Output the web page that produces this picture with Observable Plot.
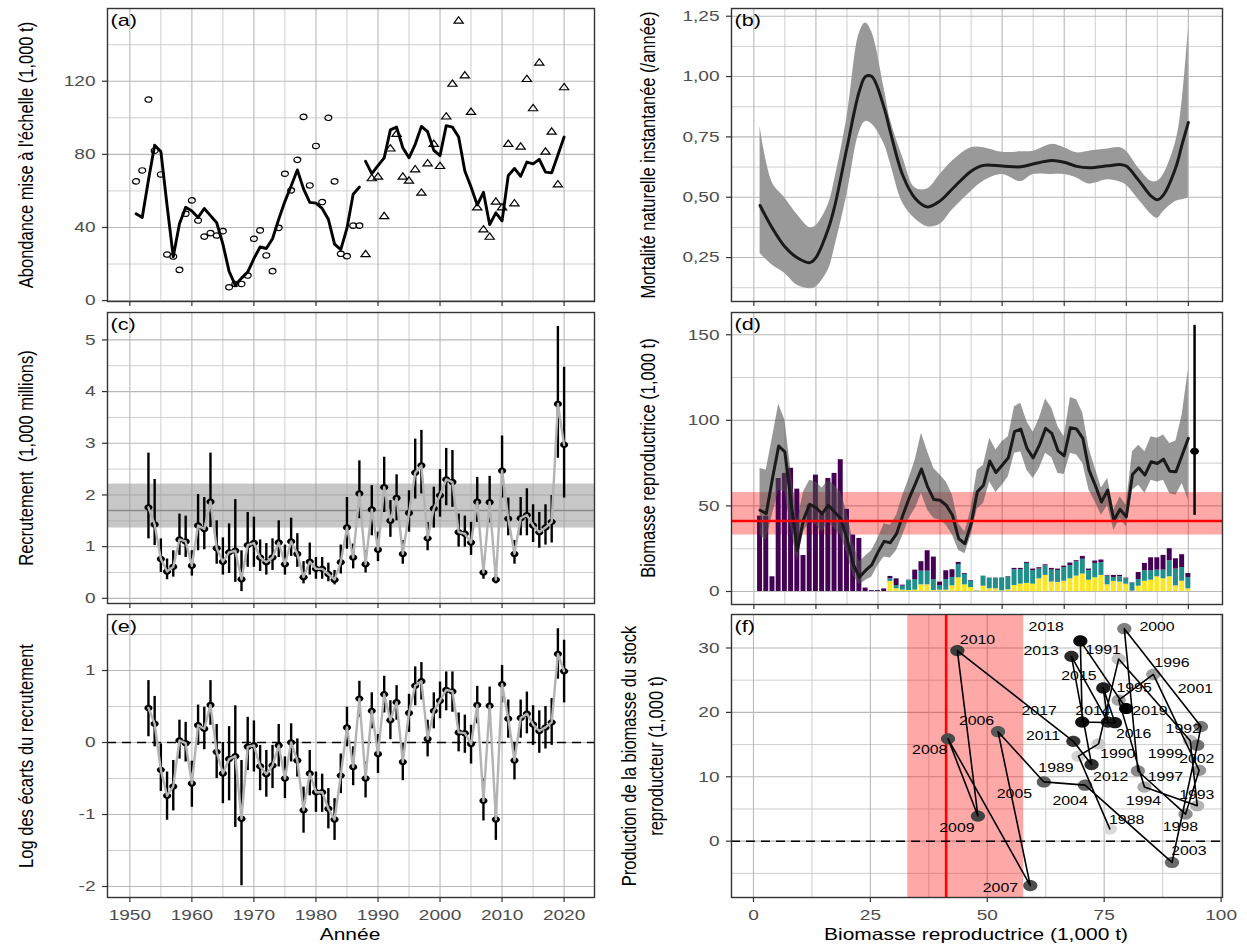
<!DOCTYPE html>
<html><head><meta charset="utf-8">
<script src="https://cdn.jsdelivr.net/npm/d3@7"></script>
<script src="https://cdn.jsdelivr.net/npm/@observablehq/plot@0.6"></script>
<style>
body{margin:0;background:#fff;}
#chart{position:relative;width:1247px;height:947px;overflow:hidden;font-family:"Liberation Sans",Arial,Helvetica,sans-serif;}
.t{position:absolute;white-space:pre;color:#000;line-height:1.25;text-align:center;transform-origin:50% 50%;}
</style></head><body><div id="chart"></div><script>
// ---------------- DATA ----------------
// (a) scaled survey abundance (1,000 t)
const aCircYear = [1951,1952,1953,1954,1955,1956,1957,1958,1959,1960,1961,1962,1963,1964,1965,1966,1967,1968,1969,1970,1971,1972,1973,1974,1975,1976,1977,1978,1979,1980,1981,1982,1983,1984,1985,1986,1987];
const aCircVal  = [65.2,71.2,110,82,69,25.2,24.1,16.8,47.5,54.8,43.8,35,36.9,35.6,38,7.3,9.1,9.1,13.7,33.8,38.4,24.7,16.1,39.8,69.4,60.3,77,100.5,63,84.6,53.9,100,65.2,25.6,24.3,41,41];
const aTriYear  = [1988,1989,1990,1991,1992,1993,1994,1995,1996,1997,1998,1999,2000,2001,2002,2003,2004,2005,2006,2007,2008,2009,2010,2011,2012,2013,2014,2015,2016,2017,2018,2019,2020];
const aTriVal   = [25.2,66.7,67.6,46,83,91,67.6,65.4,71.6,58.8,74.9,85.5,73.4,100.5,118.4,153,123,103,50.8,38.7,34.7,53.9,50.8,85.5,53,84,121,105,130,81.3,92.2,63.4,116.5];
// spawning stock biomass (1,000 t), 1951-2020
const ssbYear = [1951,1952,1953,1954,1955,1956,1957,1958,1959,1960,1961,1962,1963,1964,1965,1966,1967,1968,1969,1970,1971,1972,1973,1974,1975,1976,1977,1978,1979,1980,1981,1982,1983,1984,1985,1986,1987,1988,1989,1990,1991,1992,1993,1994,1995,1996,1997,1998,1999,2000,2001,2002,2003,2004,2005,2006,2007,2008,2009,2010,2011,2012,2013,2014,2015,2016,2017,2018,2019,2020];
const ssbMid = [47.5,45.5,66,85,81.6,52,24,42,51,49,45.5,50.4,46.5,42.6,30.9,16,8.4,12.3,15.6,23,29.3,28.5,33.8,44.5,54.3,62.7,71.5,61.1,53.7,53.3,50.4,44.5,30.9,27.9,39.6,58.2,62.1,76.2,69.5,73.8,78.1,93.4,94.9,83.6,78.1,85.5,95.3,92.4,82.2,79.3,95.7,94.9,89.5,70.9,62.1,52.3,59.2,41.6,48,43.6,68.4,72.3,68,75.8,74.8,77.3,70.3,69.9,79.7,89.5];
const ssbHi  = [71.9,70.9,90,109.4,100.2,70,40.6,58.2,65,64,60.5,65,62.1,58.2,46.5,28.9,17.2,20.7,24,30.9,39.6,38.7,44.5,56.3,66,76.8,92.4,81.6,71.9,68,64,56.3,39.6,34.8,48.4,70.9,73.8,89.5,82.6,87.5,90.4,108,110,99.2,93,101.2,112.5,107,96.3,90.4,113.3,112,104.1,83.6,71.9,60.5,66,47.5,55.3,50.4,81.6,85.5,81.6,90.4,89.5,91.4,86.5,87.9,103.1,129.5];
const ssbLo  = [32.8,29.9,45,59.2,58.2,36,17.2,34.8,40.6,38.7,34.8,40.6,36.7,32.8,22.1,9.4,3.9,6.4,8.4,15.2,20.1,19.5,24,32.8,42.6,48.4,57.2,47.5,42.6,41.6,38.7,32.8,24,22.1,32.8,48.4,51.4,64,57.8,62.1,67,80.7,81.6,70.9,66,71.9,80.7,78.1,68.9,68.4,80.7,79.7,74.8,59.2,52.3,44.5,50.4,35.7,42.6,37.7,59.2,62.1,57.2,65,64,65,57.2,56.3,63.1,53.3];
// (d) stacked bars by component, 1951-2020
const barPurple = [44,44,8.6,66,69,72,59.8,21,50.5,68,46,66,69,77,48,33,31,2,0.5,0.5,1.5,1.4,3.9,0.6,0.3,5.5,5.5,11.9,13.1,2.0,5.1,4.5,1.2,0.5,0.4,0,0,0.2,0.2,0,0.3,0.8,0.8,0.6,1.0,0.8,0.6,1.0,0.8,0.8,1.4,0.6,1.7,1.0,1.4,1.6,0.4,1.2,0.8,0.4,0.2,4.1,4.3,7.6,7.2,8.6,7.0,6.0,7.5,2.3];
const barTeal   = [0,0,0,0,0,0,0,0,0,0,0,0,0,0,0,0,0,0,0,0,0,1.5,1.9,2.3,5.7,6.2,8.0,8.0,6.4,2.7,6.2,4.9,7.8,6.1,3.7,0.2,5.9,6.0,6.0,7.6,7.4,9.2,8.4,11.7,7.8,5.7,5.6,7.0,7.0,8.0,7.8,8.4,8.6,5.5,8.4,7.4,5.1,2.3,3.1,3.1,4.7,3.9,6.1,5.5,3.9,5.1,9.4,9.8,8.0,6.6];
const barYellow = [0,0,0,0,0,0,0,0,0,0,0,0,0,0,0,0,0,0,0,0,0,5.9,1.6,0.8,0.6,0.8,3.9,3.9,0.6,0.8,0.8,3.3,8.0,3.9,2.3,0.3,3.1,1.6,1.6,0.4,1.0,3.5,4.3,4.7,4.3,7.4,9.4,5.5,5.3,6.0,7.4,9.0,10.2,6.6,8.0,9.4,3.9,5.9,5.5,4.3,0.2,3.1,6.0,6.6,8.6,7.4,8.6,3.3,6.0,1.6];
const refLine = 41.2, refLo = 33, refHi = 57.8;           // limit reference point and band
const ssbLastYear = [2021], ssbLastMid = [82], ssbLastLo = [44.5], ssbLastHi = [155.5];
// (b) natural mortality
const bYear = [1951,1953,1955,1957,1959,1960,1962,1963,1965,1967,1968,1969,1971,1972,1974,1976,1978,1980,1982,1985,1987,1990,1993,1995,1998,2000,2002,2004,2007,2009,2010,2012,2014,2015,2016,2018,2019,2020];
const bMid = [0.466,0.371,0.295,0.249,0.229,0.25,0.37,0.46,0.705,0.94,1.0,1.0,0.87,0.77,0.59,0.495,0.46,0.485,0.535,0.608,0.632,0.629,0.626,0.638,0.652,0.645,0.628,0.622,0.63,0.636,0.629,0.57,0.505,0.49,0.51,0.625,0.72,0.81];
const bHi  = [0.796,0.559,0.497,0.427,0.374,0.382,0.47,0.57,0.83,1.18,1.222,1.185,0.95,0.82,0.665,0.538,0.535,0.594,0.65,0.705,0.705,0.686,0.688,0.691,0.719,0.705,0.684,0.691,0.70,0.705,0.691,0.62,0.566,0.566,0.595,0.733,0.90,1.20];
const bLo  = [0.267,0.218,0.184,0.135,0.121,0.128,0.2,0.29,0.51,0.77,0.814,0.803,0.72,0.64,0.475,0.41,0.378,0.388,0.448,0.524,0.566,0.594,0.565,0.594,0.594,0.594,0.58,0.555,0.572,0.563,0.55,0.49,0.43,0.413,0.441,0.483,0.49,0.497];
// (c) recruitment and (e) log recruitment deviations, 1953-2020
const rYear = [1953,1954,1955,1956,1957,1958,1959,1960,1961,1962,1963,1964,1965,1966,1967,1968,1969,1970,1971,1972,1973,1974,1975,1976,1977,1978,1979,1980,1981,1982,1983,1984,1985,1986,1987,1988,1989,1990,1991,1992,1993,1994,1995,1996,1997,1998,1999,2000,2001,2002,2003,2004,2005,2006,2007,2008,2009,2010,2011,2012,2013,2014,2015,2016,2017,2018,2019,2020];
const rMid = [1.76,1.43,0.76,0.52,0.61,1.14,1.10,0.63,1.41,1.34,1.87,0.97,0.71,0.89,0.92,0.37,1.03,1.07,0.79,0.70,0.79,1.08,0.66,1.10,0.86,0.41,0.71,0.57,0.57,0.47,0.36,0.70,1.37,0.79,2.03,0.66,1.72,0.94,2.15,1.50,1.94,0.86,1.65,2.43,2.57,1.16,1.74,1.99,2.30,2.25,1.28,1.25,1.08,1.87,0.50,1.86,0.36,2.47,1.54,0.86,1.55,1.61,1.41,1.28,1.37,1.48,3.76,2.97];
const rLo  = [1.15,1.02,0.50,0.36,0.41,0.83,0.79,0.43,0.92,0.94,1.37,0.66,0.45,0.48,0.31,0.13,0.60,0.60,0.52,0.45,0.54,0.79,0.45,0.81,0.60,0.28,0.45,0.37,0.37,0.32,0.26,0.47,0.95,0.57,1.54,0.49,1.21,0.71,1.66,1.18,1.50,0.66,1.28,1.92,2.02,0.92,1.36,1.57,1.79,1.76,0.99,0.99,0.83,1.47,0.37,1.46,0.28,1.94,1.21,0.66,1.21,1.21,1.08,0.97,1.03,1.07,2.71,1.94];
const rHi  = [2.81,2.30,1.15,0.76,0.92,1.63,1.59,0.92,2.01,1.95,2.81,1.50,1.17,1.44,1.91,0.92,1.66,1.57,1.13,1.06,1.15,1.50,1.03,1.55,1.25,0.71,1.07,0.79,0.79,0.68,0.54,1.03,1.95,1.05,2.66,0.92,2.18,1.28,2.73,1.89,2.39,1.12,2.08,3.08,3.25,1.47,2.15,2.49,2.90,2.86,1.63,1.59,1.47,2.34,0.71,2.36,0.54,3.14,1.94,1.12,1.95,2.12,1.81,1.66,1.81,1.99,5.26,4.47];
const rMean = 1.70, rBandLo = 1.36, rBandHi = 2.21;
const devMid = [0.48,0.26,-0.38,-0.74,-0.61,0.03,-0.01,-0.57,0.24,0.19,0.52,-0.13,-0.43,-0.23,-0.19,-1.06,-0.06,-0.04,-0.33,-0.44,-0.32,-0.04,-0.50,0.00,-0.25,-0.94,-0.43,-0.69,-0.69,-0.92,-1.07,-0.46,0.21,-0.34,0.61,-0.50,0.44,-0.16,0.67,0.31,0.56,-0.27,0.41,0.79,0.85,0.05,0.44,0.58,0.73,0.71,0.14,0.13,-0.02,0.52,-0.81,0.51,-1.07,0.81,0.33,-0.25,0.34,0.40,0.25,0.16,0.21,0.28,1.23,0.99];
const devLo  = [0.08,-0.06,-0.68,-1.08,-0.95,-0.23,-0.27,-0.90,-0.04,-0.10,0.24,-0.50,-0.85,-0.81,-1.18,-1.99,-0.39,-0.41,-0.67,-0.76,-0.64,-0.34,-0.78,-0.27,-0.48,-1.26,-0.74,-0.97,-0.97,-1.20,-1.36,-0.71,-0.06,-0.60,0.35,-0.77,0.19,-0.43,0.41,0.04,0.31,-0.53,0.14,0.51,0.59,-0.20,0.19,0.33,0.44,0.42,-0.13,-0.15,-0.30,0.26,-1.09,0.24,-1.36,0.55,0.06,-0.52,0.06,0.12,-0.04,-0.15,-0.09,-0.04,0.88,0.55];
const devHi  = [0.86,0.64,-0.02,-0.41,-0.25,0.31,0.28,-0.26,0.52,0.49,0.86,0.25,0.00,0.22,0.51,-0.25,0.35,0.30,-0.04,-0.11,-0.04,0.25,-0.20,0.26,0.05,-0.62,-0.11,-0.41,-0.44,-0.64,-0.78,-0.16,0.49,-0.06,0.85,-0.27,0.69,0.11,0.92,0.58,0.79,-0.01,0.67,1.05,1.11,0.31,0.69,0.84,0.98,0.98,0.41,0.38,0.24,0.78,-0.50,0.77,-0.78,1.07,0.59,0.00,0.59,0.70,0.51,0.44,0.50,0.61,1.58,1.42];
// (f) surplus production vs SSB, 1988-2019 (x from ssbMid)
const fYear = [1988,1989,1990,1991,1992,1993,1994,1995,1996,1997,1998,1999,2000,2001,2002,2003,2004,2005,2006,2007,2008,2009,2010,2011,2012,2013,2014,2015,2016,2017,2018,2019];
const fProd = [1.9,13.2,15.1,28.3,15.6,5.5,8.4,21.9,25.9,11.0,4.2,10.9,33.0,17.8,14.9,-3.3,8.7,9.2,17.0,-6.9,15.9,3.9,29.6,15.5,11.9,28.7,18.5,23.8,18.4,18.5,31.1,20.6];
const fLblX = [79.8,64.7,77.9,74.8,91.9,94.8,83.4,81.4,89.5,88.1,91.3,88.1,86.3,94.5,94.8,93.1,67.7,55.8,47.7,52.8,37.7,43.5,47.9,61.9,76.4,61.5,72.6,69.6,81.3,61.1,62.6,84.8];
const fLblY = [3.3,11.3,13.5,29.7,17.4,7.2,6.3,23.8,27.6,9.9,2.2,13.6,33.2,23.7,12.8,-1.6,6.3,7.4,18.6,-7.2,14.1,2.1,31.3,16.4,9.9,29.5,20.2,25.6,16.6,20.2,33.2,20.2];
// ticks
const yearMajor = [1950,1960,1970,1980,1990,2000,2010,2020];
const yearMinor = [1955,1965,1975,1985,1995,2005,2015];

// ---------------- LAYOUT / STYLE ----------------
const chart = document.getElementById("chart");
const ST = 1.27;
const FONT = '"Liberation Sans", Arial, Helvetica, sans-serif';
const BOX = {
  a:{x0:107,x1:594,y0:8,y1:301}, b:{x0:731,x1:1222,y0:8,y1:301},
  c:{x0:107,x1:594,y0:312,y1:603}, d:{x0:731,x1:1222,y0:312,y1:604},
  e:{x0:107,x1:594,y0:614,y1:897}, f:{x0:731,x1:1222,y0:614,y1:897}
};
const XL = [1946.4, 2024.9], XR = [1946.4, 2025.5];
const mL = 62, mR = 12, mT = 10, mB = 36;

const ellipse = {draw(ctx, size){ const r=Math.sqrt(size/Math.PI), rx=r*ST, k=0.5523;
  ctx.moveTo(rx,0); ctx.bezierCurveTo(rx,k*r,k*rx,r,0,r); ctx.bezierCurveTo(-k*rx,r,-rx,k*r,-rx,0);
  ctx.bezierCurveTo(-rx,-k*r,-k*rx,-r,0,-r); ctx.bezierCurveTo(k*rx,-r,rx,-k*r,rx,0); ctx.closePath(); }};
const triangle = {draw(ctx, size){ const s3=Math.sqrt(3), y=-Math.sqrt(size/(s3*3));
  ctx.moveTo(0,y*2); ctx.lineTo(-s3*y*ST,-y); ctx.lineTo(s3*y*ST,-y); ctx.closePath(); }};

function panel(box, xdom, ydom, xMaj, xMin, yMaj, yMin, marks, tag, opts={}) {
  const w = box.x1-box.x0, h = box.y1-box.y0;
  const svg = Plot.plot({
    width: w+mL+mR, height: h+mT+mB, marginLeft:mL, marginRight:mR, marginTop:mT, marginBottom:mB,
    x:{domain:xdom}, y:{domain:ydom}, color:{type:"identity"},
    style:{fontFamily:FONT, fontSize:"15px", background:"transparent", overflow:"visible"},
    marks:[
      Plot.ruleX(xMin,{stroke:"#cacaca", strokeWidth:0.9}),
      Plot.ruleY(yMin,{stroke:"#cacaca", strokeWidth:0.9}),
      Plot.ruleX(xMaj,{stroke:"#b8b8b8", strokeWidth:1.1}),
      Plot.ruleY(yMaj,{stroke:"#b8b8b8", strokeWidth:1.1}),
      ...marks,
      Plot.frame({stroke:"#333", strokeWidth:1.4}),
      Plot.text([tag],{frameAnchor:"top-left", dx:3, dy:5, lineAnchor:"top", textAnchor:"start", fontSize:17, fill:"#000"}),
      Plot.axisX(xMaj,{tickSize:5, tickPadding:7, stroke:"#333", strokeWidth:1.2, fill: opts.xLabels ? "#4d4d4d" : "none", tickFormat: opts.xFmt || (d=>String(d)), label:null, fontSize:15}),
      Plot.axisY(yMaj,{tickSize:5, tickPadding:7, stroke:"#333", strokeWidth:1.2, fill:"#4d4d4d", tickFormat: opts.yFmt || (d=>String(d)), label:null, fontSize:15})
    ]
  });
  svg.style.position="absolute"; svg.style.left=(box.x0-mL)+"px"; svg.style.top=(box.y0-mT)+"px";
  chart.append(svg);
}
const I = arr => d3.range(arr.length);
const ssbIdx = I(ssbYear);
const early = ssbIdx.filter(i => ssbYear[i] <= 1987), late = ssbIdx.filter(i => ssbYear[i] >= 1988);

// (a)
panel(BOX.a, XL, [-0.5,159.8], yearMajor, yearMinor, [0,40,80,120], [20,60,100,140], [
  Plot.line(early,{x:i=>ssbYear[i], y:i=>ssbMid[i], stroke:"#000", strokeWidth:2.9}),
  Plot.line(late,{x:i=>ssbYear[i], y:i=>ssbMid[i], stroke:"#000", strokeWidth:2.9}),
  Plot.dot(I(aCircYear),{x:i=>aCircYear[i], y:i=>aCircVal[i], r:2.7, symbol:ellipse, stroke:"#000", fill:"none", strokeWidth:1.2}),
  Plot.dot(I(aTriYear),{x:i=>aTriYear[i], y:i=>aTriVal[i], r:2.7, symbol:triangle, stroke:"#000", fill:"none", strokeWidth:1.2})
], "(a)");

// (b)
const fmtComma = d => d.toFixed(2).replace(".", ",");
panel(BOX.b, XR, [0.068,1.282], yearMajor, yearMinor, [0.25,0.5,0.75,1.0,1.25], [0.125,0.375,0.625,0.875,1.125], [
  Plot.areaY(I(bYear),{x:i=>bYear[i], y1:i=>bLo[i], y2:i=>bHi[i], fill:"#999999", curve:"catmull-rom"}),
  Plot.line(I(bYear),{x:i=>bYear[i], y:i=>bMid[i], stroke:"#1a1a1a", strokeWidth:3, curve:"catmull-rom"})
], "(b)", {yFmt: fmtComma});

// (c)
panel(BOX.c, XL, [-0.10,5.53], yearMajor, yearMinor, [0,1,2,3,4,5], [0.5,1.5,2.5,3.5,4.5], [
  Plot.rect([0],{y1:rBandLo, y2:rBandHi, fill:"#999", fillOpacity:0.55}),
  Plot.ruleY([rMean],{stroke:"#8c8c8c", strokeWidth:1.6}),
  Plot.ruleX(I(rYear),{x:i=>rYear[i], y1:i=>rLo[i], y2:i=>rHi[i], stroke:"#000", strokeWidth:2.4}),
  Plot.dot(I(rYear),{x:i=>rYear[i], y:i=>rMid[i], r:3.2, symbol:ellipse, fill:"#000"}),
  Plot.line(I(rYear),{x:i=>rYear[i], y:i=>rMid[i], stroke:"#b3b3b3", strokeWidth:2.4})
], "(c)");

// (d)
const barRows = [];
ssbYear.forEach((yr,i) => { barRows.push({year:yr, v:barYellow[i], c:"#fde725"}, {year:yr, v:barTeal[i], c:"#21908c"}, {year:yr, v:barPurple[i], c:"#440154"}); });
panel(BOX.d, XR, [-7.6,163.0], yearMajor, yearMinor, [0,50,100,150], [25,75,125], [
  Plot.rect([0],{y1:refLo, y2:refHi, fill:"#ff0000", fillOpacity:0.34}),
  Plot.rect(barRows, Plot.stackY({x:"year", y:"v", fill:"c", x1:d=>d.year-0.4, x2:d=>d.year+0.4})),
  Plot.areaY(ssbIdx,{x:i=>ssbYear[i], y1:i=>ssbLo[i], y2:i=>ssbHi[i], fill:"#4d4d4d", fillOpacity:0.58}),
  Plot.line(ssbIdx,{x:i=>ssbYear[i], y:i=>ssbMid[i], stroke:"#1a1a1a", strokeWidth:3}),
  Plot.ruleY([refLine],{stroke:"#ff0000", strokeWidth:2.6}),
  Plot.ruleX(I(ssbLastYear),{x:i=>ssbLastYear[i], y1:i=>ssbLastLo[i], y2:i=>ssbLastHi[i], stroke:"#000", strokeWidth:2.5}),
  Plot.dot(I(ssbLastYear),{x:i=>ssbLastYear[i], y:i=>ssbLastMid[i], r:3.5, symbol:ellipse, fill:"#000"})
], "(d)");

// (e)
panel(BOX.e, XL, [-2.153,1.778], yearMajor, yearMinor, [-2,-1,0,1], [-1.5,-0.5,0.5,1.5], [
  Plot.ruleY([0],{stroke:"#000", strokeWidth:1.5, strokeDasharray:"9,6"}),
  Plot.ruleX(I(rYear),{x:i=>rYear[i], y1:i=>devLo[i], y2:i=>devHi[i], stroke:"#000", strokeWidth:2.4}),
  Plot.dot(I(rYear),{x:i=>rYear[i], y:i=>devMid[i], r:3.2, symbol:ellipse, fill:"#000"}),
  Plot.line(I(rYear),{x:i=>rYear[i], y:i=>devMid[i], stroke:"#b3b3b3", strokeWidth:2.4})
], "(e)", {xLabels:true});

// (f)
const ssbOf = yr => ssbMid[ssbYear.indexOf(yr)];
const grey = d3.interpolateLab("#dadada", "#000000");
const fIdx = I(fYear);
panel(BOX.f, [-4.7,100.3], [-8.75,35.2], [0,25,50,75,100], [12.5,37.5,62.5,87.5], [0,10,20,30], [-5,5,15,25], [
  Plot.rect([0],{x1:refLo, x2:refHi, fill:"#ff0000", fillOpacity:0.34}),
  Plot.ruleX([refLine],{stroke:"#ff0000", strokeWidth:2.6}),
  Plot.ruleY([0],{stroke:"#000", strokeWidth:1.5, strokeDasharray:"9,6"}),
  Plot.dot(fIdx,{x:i=>ssbOf(fYear[i]), y:i=>fProd[i], r:5.6, symbol:ellipse, fill:i=>grey((fYear[i]-1988)/31)}),
  Plot.line(fIdx,{x:i=>ssbOf(fYear[i]), y:i=>fProd[i], stroke:"#000", strokeWidth:1.6}),
  Plot.text(fIdx,{x:i=>fLblX[i], y:i=>fLblY[i], text:i=>String(fYear[i]), fontSize:12.5, fill:"#000"})
], "(f)", {xLabels:true});

// stretch all svg text horizontally like the reference
for (const t of chart.querySelectorAll("svg text")) {
  if (t.querySelector("tspan")) continue;
  const L = t.getComputedTextLength();
  if (L > 0) { t.setAttribute("textLength", (L*ST).toFixed(2)); t.setAttribute("lengthAdjust", "spacingAndGlyphs"); }
}

// axis titles (HTML)
function title(txt, cx, cy, rot, size) {
  const d = document.createElement("div");
  d.className = "t"; d.textContent = txt;
  d.style.left = cx+"px"; d.style.top = cy+"px"; d.style.fontSize = size+"px";
  d.style.transform = `translate(-50%,-50%) scaleX(${ST})` + (rot ? " rotate(-90deg)" : "");
  chart.append(d);
}
title("Abondance mise à l'échelle (1,000 t)", 26, 155, true, 16.5);
title("Recrutement  (1,000 millions)", 26, 458, true, 16.5);
title("Log des écarts du recrutement", 26, 756, true, 16.5);
title("Mortalité naturelle instantanée (/année)", 648, 155, true, 16.5);
title("Biomasse reproductrice (1,000 t)", 648, 458, true, 16.5);
title("Production de la biomasse du stock\nreproducteur (1,000 t)", 642, 756, true, 16.5);
title("Année", 350, 934, false, 16.5);
title("Biomasse reproductrice (1,000 t)", 976, 934, false, 16.5);
</script></body></html>
